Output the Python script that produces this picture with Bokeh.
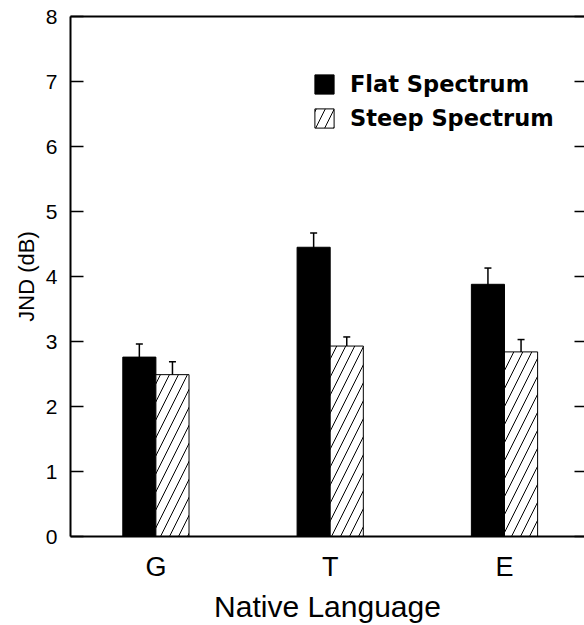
from bokeh.plotting import figure
from bokeh.models import (ColumnDataSource, Range1d, LinearAxis, FixedTicker,
                          Whisker, TeeHead, Legend, LegendItem)
from bokeh.embed import file_html
from bokeh.resources import INLINE

# ---- data ----
categories = ["G", "T", "E"]
flat = [2.76, 4.45, 3.88]
flat_err = [0.20, 0.22, 0.25]
steep = [2.49, 2.93, 2.84]
steep_err = [0.20, 0.14, 0.19]
y_ticks = [0, 1, 2, 3, 4, 5, 6, 7, 8]
series_names = ["Flat Spectrum", "Steep Spectrum"]

bar_w = 0.19
xs = list(range(len(categories)))
flat_src = ColumnDataSource(dict(
    x=[x - bar_w / 2 for x in xs], top=flat,
    lo=[v - e for v, e in zip(flat, flat_err)],
    hi=[v + e for v, e in zip(flat, flat_err)]))
steep_src = ColumnDataSource(dict(
    x=[x + bar_w / 2 for x in xs], top=steep,
    lo=[v - e for v, e in zip(steep, steep_err)],
    hi=[v + e for v, e in zip(steep, steep_err)]))

p = figure(width=584, height=625, output_backend="svg", toolbar_location=None,
           x_range=Range1d(-0.49, 2.459), y_range=Range1d(0, 8),
           min_border_left=70, min_border_right=0, min_border_top=16,
           min_border_bottom=88)
p.outline_line_color = None
p.grid.visible = False
p.background_fill_color = "white"
p.border_fill_color = "white"

r_flat = p.vbar(x="x", top="top", width=bar_w, source=flat_src,
                fill_color="black", line_color="black", line_width=1)
r_steep = p.vbar(x="x", top="top", width=bar_w, source=steep_src,
                 fill_color="white", line_color="black", line_width=1,
                 hatch_pattern="/", hatch_color="black", hatch_scale=18,
                 hatch_weight=1)

for src in (flat_src, steep_src):
    w = Whisker(source=src, base="x", upper="hi", lower="lo",
                line_color="black", line_width=1.5,
                upper_head=TeeHead(size=7, line_color="black", line_width=1.5),
                lower_head=TeeHead(size=7, line_color="black", line_width=1.5))
    p.add_layout(w)

# x axis
xa = p.xaxis[0]
xa.ticker = FixedTicker(ticks=xs)
xa.major_label_overrides = {x: c for x, c in zip(xs, categories)}
xa.major_tick_in = 0
xa.major_tick_out = 0
xa.minor_tick_line_color = None
xa.axis_line_width = 2
xa.axis_line_color = "black"
xa.major_label_text_font = "Liberation Sans"
xa.major_label_text_font_size = "27px"
xa.major_label_text_color = "black"
xa.major_label_standoff = 15
xa.axis_label = "Native Language"
xa.axis_label_text_font = "Liberation Sans"
xa.axis_label_text_font_size = "30px"
xa.axis_label_text_font_style = "normal"
xa.axis_label_text_color = "black"
xa.axis_label_standoff = 5

# y axis
ya = p.yaxis[0]
ya.ticker = FixedTicker(ticks=y_ticks)
ya.major_tick_in = 13
ya.major_tick_out = 0
ya.minor_tick_line_color = None
ya.axis_line_width = 2
ya.axis_line_color = "black"
ya.major_tick_line_width = 1.5
ya.major_label_text_font = "Liberation Sans"
ya.major_label_text_font_size = "21px"
ya.major_label_text_color = "black"
ya.major_label_standoff = 13
ya.axis_label = "JND (dB)"
ya.axis_label_text_font = "Liberation Sans"
ya.axis_label_text_font_size = "22px"
ya.axis_label_text_font_style = "normal"
ya.axis_label_text_color = "black"
ya.axis_label_standoff = 4

# top frame line
top_ax = LinearAxis(ticker=FixedTicker(ticks=[]), axis_line_width=2,
                    axis_line_color="black", major_tick_in=0, major_tick_out=0,
                    minor_tick_line_color=None, major_label_standoff=0)
p.add_layout(top_ax, "above")

# right-side inward ticks (frame edge lies just beyond the picture)
right_ax = LinearAxis(ticker=FixedTicker(ticks=y_ticks), axis_line_color=None,
                      major_tick_in=10, major_tick_out=0, major_tick_line_width=1.5,
                      minor_tick_line_color=None, major_label_standoff=0,
                      major_label_overrides={t: "" for t in y_ticks})
p.add_layout(right_ax, "right")

legend = Legend(items=[LegendItem(label=series_names[0], renderers=[r_flat]),
                       LegendItem(label=series_names[1], renderers=[r_steep])],
                location=(242, 405), orientation="vertical",
                glyph_width=24, glyph_height=24, label_height=26,
                label_standoff=14, spacing=8, padding=0, margin=0,
                border_line_color=None, background_fill_color=None,
                label_text_font="DejaVu Sans", label_text_font_style="bold",
                label_text_font_size="22.5px", label_text_color="black")
p.add_layout(legend)

open("out.html", "w").write(file_html(p, INLINE))
